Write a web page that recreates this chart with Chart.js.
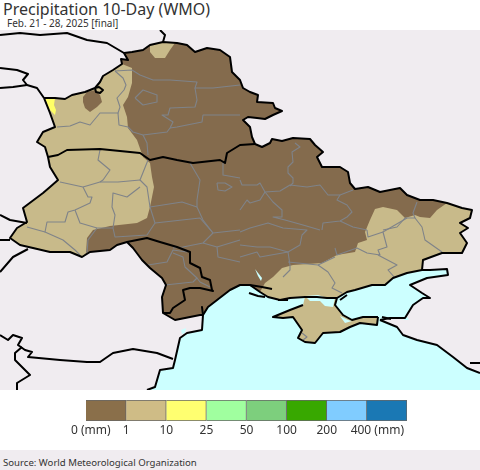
<!DOCTYPE html>
<html>
<head>
<meta charset="utf-8">
<script src="https://cdn.jsdelivr.net/npm/chart.js@4"></script>
<style>
    html, body { margin: 0; padding: 0; background: #fff; }
    body { position: relative; width: 480px; height: 470px; overflow: hidden; font-family: "Noto Sans", sans-serif; color: #333; }
    canvas { position: absolute; left: 0; }
    #mapChart { top: 30px; background: #f0ecf0; }
    #barChart { top: 390px; }
    .txt { position: absolute; white-space: nowrap; }
    #title { left: 3px; top: -3px; font-size: 16px; line-height: 24px; }
    #sub { left: 7px; top: 16px; font-size: 10px; line-height: 14px; }
    #source { left: 0; top: 450px; width: 477px; height: 20px; padding-left: 3px; background: #f0ecf0; font-size: 9.6px; line-height: 26px; }
</style>
</head>
<body>
<div class="txt" id="title">Precipitation 10-Day (WMO)</div>
<div class="txt" id="sub">Feb. 21 - 28, 2025 [final]</div>
<canvas id="mapChart" width="480" height="360"></canvas>
<canvas id="barChart" width="480" height="60"></canvas>
<div class="txt" id="source">Source: World Meteorological Organization</div>
<script>
// legend
const legendLabels = ['0 (mm)', '1', '10', '25', '50', '100', '200', '400 (mm)'];
const legendTicks = [0.12, 1, 2, 3, 4, 5, 6, 7.26];
const legendColors = ['#8a6f4a', '#cfbc86', '#ffff70', '#a0ff9f', '#7dcf7d', '#38a800', '#80ccff', '#1a78b4'];

// map outlines
const sea = [[150,390],[155,387],[160,370],[173,368],[175,360],[180,338],[187,333],[202,330],[203,315],[208,307],[230,290],[240,285],[272,289],[268,297],[280,300],[290,298],[305,297],[317,297],[327,298],[337,298],[347,292],[355,290],[372,285],[385,285],[393,278],[407,273],[422,270],[430,270],[447,269],[448,275],[427,278],[410,285],[422,293],[430,298],[423,298],[413,305],[405,318],[390,318],[380,320],[397,327],[403,335],[417,340],[437,345],[453,357],[467,368],[480,373],[480,390]];
const northBorder = [[44,98],[55,98],[65,99],[72,95],[85,92],[95,88],[100,82],[103,76],[113,70],[122,64],[121,59],[128,60],[124,53],[132,52],[143,50],[150,45],[163,42],[177,43],[187,45],[195,52],[207,48],[220,50],[230,57],[232,72],[238,78],[240,80],[243,88],[250,92],[258,95],[257,102],[273,103],[275,108],[282,111],[273,115],[265,119],[257,118],[248,117],[243,120],[250,127],[252,137],[255,144],[262,147],[270,143],[272,139],[282,141],[293,138],[310,139],[315,145],[323,152],[317,157],[322,167],[340,167],[348,172],[350,183],[355,189],[368,187],[380,192],[400,188],[407,195],[420,200],[433,200],[447,203],[462,208],[472,210],[470,218],[460,223],[468,228],[460,233],[467,243],[462,253],[442,253],[423,260],[422,270]];
const azovCoast = [[422,270],[407,273],[393,278],[385,285],[372,285],[355,290],[347,292],[337,298]];
const blackSeaCoast = [[337,298],[327,298],[317,297],[305,297],[290,298],[280,300],[268,297],[260,292],[250,285],[240,285],[230,290],[208,307],[203,315]];
const southWestBorder = [[203,315],[200,315],[190,317],[175,320],[163,313],[162,297],[166,285],[162,278],[150,268],[142,260],[133,248],[127,242],[117,245],[110,250],[90,252],[82,257],[70,252],[50,252],[33,248],[20,245],[10,238],[17,228],[27,222],[23,208],[43,193],[50,187],[58,180],[50,167],[48,157],[45,147],[37,142],[43,132],[55,127],[50,113],[44,98]];
const crimea = [[273,317],[290,310],[303,305],[305,297],[337,298],[335,305],[343,315],[352,320],[363,317],[378,317],[377,325],[360,323],[350,327],[340,332],[323,333],[315,343],[305,342],[298,338],[302,330],[293,317],[283,318]];
const tanWest = [[86,253],[82,257],[70,252],[50,252],[33,248],[20,245],[10,238],[17,228],[27,222],[23,208],[43,193],[50,187],[58,180],[50,167],[48,157],[45,147],[37,142],[43,132],[55,127],[50,113],[44,98],[55,98],[65,99],[72,95],[85,92],[95,88],[100,82],[103,76],[113,70],[122,64],[132,68],[132,83],[128,97],[123,105],[127,117],[128,128],[137,140],[143,157],[150,163],[152,177],[154,187],[150,207],[147,218],[137,223],[110,226],[93,230],[87,238]];
const tanNorth = [[150,45],[163,42],[175,43],[170,50],[165,58],[155,58],[150,52]];
const tanEast = [[447,203],[437,210],[430,218],[420,217],[415,215],[405,218],[397,210],[383,207],[375,209],[370,220],[365,232],[367,240],[358,243],[355,252],[337,255],[322,263],[293,265],[282,268],[273,277],[265,283],[260,292],[268,297],[280,300],[290,298],[305,297],[317,297],[327,298],[337,298],[347,292],[355,290],[372,285],[385,285],[393,278],[407,273],[422,270],[423,260],[442,253],[462,253],[467,243],[460,233],[468,228],[460,223],[470,218],[472,210],[462,208]];
const dryBlob = [[83,97],[87,92],[95,90],[100,95],[102,102],[97,107],[90,112],[85,108],[83,102]];
const yellowPatch = [[45,98],[55,98],[54,105],[56,110],[55,115],[50,110],[47,103]];
const waterPatches = [
    [[305,296],[318,295],[327,298],[335,298],[333,307],[325,306],[320,301],[310,301]],
    [[340,316],[348,320],[352,321],[345,323]],
    [[405,313],[409,320],[404,320]],
    [[255,269],[262,278],[261,281],[258,276]],
    [[181,330],[186,328],[185,333],[182,334]]
];

// black borders outside the filled areas
const borders = [
    [[0,35],[20,33],[40,35],[67,33],[87,40],[107,43],[124,53]],
    [[160,30],[165,35],[163,42]],
    [[0,68],[17,70],[28,74],[23,80],[27,85],[13,87],[0,88]],
    [[27,85],[37,88],[44,98]],
    [[48,157],[58,155],[67,150],[100,149],[140,153],[150,160],[163,157],[177,160],[193,163],[220,160],[225,163],[227,153],[240,145],[255,144]],
    [[127,242],[147,238],[160,242],[177,247],[190,252],[190,263],[200,268],[202,277],[210,280],[212,290],[213,291],[200,288],[190,288],[183,290],[185,300],[173,308],[170,313],[163,313]],
    [[203,315],[202,307],[203,315],[202,330],[187,333],[180,338],[175,360],[173,368],[160,370],[155,387],[147,390]],
    [[0,335],[8,340],[13,335],[22,338],[18,345],[25,350],[32,352],[28,357],[60,360],[87,362],[100,362],[113,353],[133,349],[157,353],[173,359]],
    [[22,347],[15,353],[15,360],[30,375],[17,383],[17,390]],
    [[0,215],[10,220],[27,223]],
    [[0,240],[10,240]],
    [[28,249],[13,257],[0,272]],
    [[337,298],[335,305],[343,315],[352,320],[363,317],[378,317]],
    [[303,305],[290,310],[273,317],[283,318],[293,317],[302,330],[298,338],[305,342],[315,343],[323,333],[340,332],[350,327],[360,323],[377,325],[378,317]],
    [[380,320],[397,327],[403,335],[417,340],[437,345],[453,357],[467,368],[480,373]],
    [[380,320],[390,318],[405,318],[413,305],[423,298],[430,298],[422,293],[410,285],[427,278],[448,275],[447,269],[430,270],[422,270]],
    [[470,363],[480,363]],
    [[250,285],[262,287],[272,289]],
    [[249,293],[258,296],[265,297]],
    [[278,300],[288,300]],
    [[340,300],[347,295]],
    [[382,317],[391,319]],
    [[95,88],[99,87],[103,90],[100,93],[96,92],[95,88]]
];

// oblast lines
const regions = [
    [[115,71],[132,70],[140,75],[153,80],[170,80],[197,82],[195,88],[213,88],[240,85]],
    [[115,71],[123,78],[126,85],[124,90],[117,98],[120,107],[118,113],[100,113],[90,125],[80,122],[70,126],[57,127]],
    [[195,88],[197,100],[195,107],[170,108],[168,115],[162,115],[173,122],[170,128],[167,132],[143,135],[147,143],[148,155]],
    [[240,115],[203,115],[202,122],[177,127],[170,128]],
    [[135,98],[143,90],[157,95],[157,102],[143,105],[135,98]],
    [[118,113],[119,125],[128,127],[133,132],[143,135]],
    [[100,150],[98,160],[110,170],[103,180],[100,182]],
    [[148,160],[140,180],[147,187],[150,207]],
    [[60,182],[83,187],[100,182],[118,182],[140,180]],
    [[83,187],[88,197],[92,197],[90,203],[75,210],[68,212],[65,222],[47,222],[45,232],[63,240],[75,250],[80,255]],
    [[27,227],[45,232]],
    [[75,210],[80,223],[97,228],[113,228]],
    [[97,228],[88,240],[87,253]],
    [[140,187],[127,197],[113,193],[112,207],[115,215],[113,228],[115,237],[147,235],[155,223],[150,207],[182,202],[197,207]],
    [[190,163],[200,180],[197,200],[197,207],[203,220],[213,233],[240,230]],
    [[155,223],[200,218],[213,233]],
    [[213,233],[203,243],[183,247],[173,248]],
    [[203,243],[217,247],[218,257],[240,262]],
    [[217,247],[240,240]],
    [[223,163],[223,175],[240,178]],
    [[217,183],[225,183],[232,187],[225,191],[218,190],[217,183]],
    [[148,265],[167,262],[173,250],[187,252]],
    [[173,253],[183,257],[185,267],[197,278],[193,282],[165,285]],
    [[197,278],[200,282],[210,287]],
    [[240,180],[242,185],[257,185],[260,183],[265,192],[280,191],[290,185],[307,187],[320,185],[328,195],[340,195],[353,190]],
    [[295,143],[300,147],[292,152],[293,162],[288,167],[288,173],[293,178],[293,183],[290,186]],
    [[265,192],[273,202],[282,210],[282,217],[273,217],[285,220],[303,225],[320,230]],
    [[240,210],[247,200],[250,203],[260,200],[265,192]],
    [[340,195],[337,200],[347,205],[352,212],[347,217],[340,221],[323,223],[322,230]],
    [[340,221],[353,227],[367,230]],
    [[417,202],[413,213],[415,218],[405,218],[397,227],[383,230]],
    [[240,232],[250,228],[268,223],[283,228],[307,230],[302,235],[300,245],[288,252],[270,247],[257,247],[240,245]],
    [[288,252],[290,265],[290,270],[283,277]],
    [[240,257],[257,252],[260,257],[288,252]],
    [[335,248],[337,255],[357,248],[367,253],[380,255],[378,250],[387,247],[383,232],[407,218]],
    [[367,230],[368,237],[383,232]],
    [[415,218],[422,227],[425,240],[442,252]],
    [[378,255],[397,265],[388,270],[395,278]],
    [[318,265],[328,272],[335,283],[332,288],[342,293]],
    [[288,262],[318,265],[335,257]],
    [[302,333],[307,337],[303,340]]
];

const dryColor = '#846b4d';
const tanColor = '#c8ba8a';
const waterColor = '#ccffff';
const regionColor = '#7f8389';

const toPoints = pts => pts.map(p => ({ x: p[0], y: p[1] }));
const area = (pts, color) => ({ data: toPoints(pts), showLine: true, fill: 'shape', backgroundColor: color, borderWidth: 0, pointRadius: 0 });
const line = (pts, color, width) => ({ data: toPoints(pts), showLine: true, fill: false, borderColor: color, borderWidth: width, borderJoinStyle: 'round', pointRadius: 0 });

const layers = [
    area(sea, waterColor),
    area([...northBorder, ...azovCoast, ...blackSeaCoast, ...southWestBorder], dryColor),
    area(crimea, tanColor),
    area(tanWest, tanColor),
    area(tanNorth, tanColor),
    area(tanEast, tanColor),
    area(dryBlob, dryColor),
    area(yellowPatch, '#ffff66'),
    ...waterPatches.map(p => area(p, waterColor)),
    ...regions.map(r => line(r, regionColor, 1.1)),
    line(northBorder, '#000', 2),
    line(azovCoast, '#000', 2),
    line(blackSeaCoast, '#000', 2),
    line(southWestBorder, '#000', 2),
    ...borders.map(b => line(b, '#000', 2))
];
layers.forEach((d, i) => { d.order = layers.length - i; });

const mapChart = new Chart(document.getElementById('mapChart').getContext('2d'), {
    type: 'scatter',
    data: { datasets: layers },
    options: {
        responsive: false,
        animation: false,
        events: [],
        layout: { padding: 0 },
        plugins: { legend: { display: false }, tooltip: { enabled: false } },
        scales: {
            x: { type: 'linear', display: false, min: 0, max: 480 },
            y: { type: 'linear', display: false, min: 30, max: 390, reverse: true }
        }
    }
});

const barChart = new Chart(document.getElementById('barChart').getContext('2d'), {
    type: 'bar',
    data: {
        labels: ['mm'],
        datasets: legendColors.map(c => ({
            data: [1],
            backgroundColor: c,
            borderColor: '#666',
            borderWidth: 1,
            barPercentage: 1,
            categoryPercentage: 1
        }))
    },
    options: {
        indexAxis: 'y',
        responsive: false,
        animation: false,
        events: [],
        layout: { padding: { left: 86, right: 73, top: 10, bottom: 0 } },
        plugins: { legend: { display: false }, tooltip: { enabled: false } },
        scales: {
            x: {
                stacked: true,
                min: 0,
                max: 8,
                grid: { display: false, drawTicks: false },
                border: { display: false },
                afterBuildTicks: s => { s.ticks = legendTicks.map(v => ({ value: v })); },
                afterFit: s => { s.height = 29; },
                ticks: {
                    autoSkip: false,
                    maxRotation: 0,
                    padding: 2,
                    color: '#333',
                    font: { family: 'Noto Sans', size: 12 },
                    callback: (v, i) => legendLabels[i]
                }
            },
            y: { stacked: true, display: false }
        }
    }
});
</script>
</body>
</html>
